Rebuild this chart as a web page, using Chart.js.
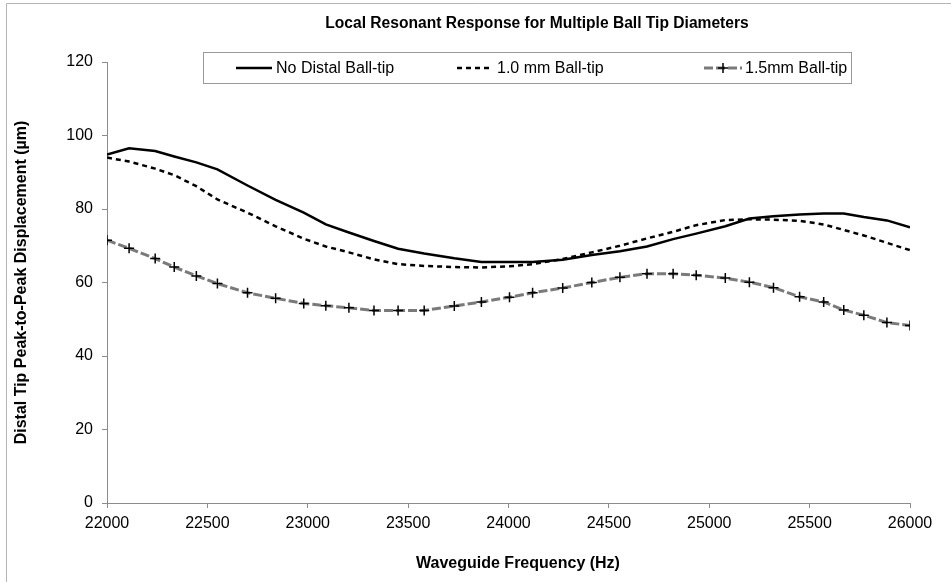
<!DOCTYPE html>
<html>
<head>
<meta charset="utf-8">
<script src="https://cdn.jsdelivr.net/npm/chart.js@4.4.1/dist/chart.umd.min.js"></script>
<style>
  html, body { margin: 0; padding: 0; background: #fff; overflow: hidden; }
  #wrap { width: 951px; height: 582px; position: relative; }
</style>
</head>
<body>
<div id="wrap"><canvas id="c" width="951" height="582"></canvas></div>
<script>
// Sweep frequencies (Hz)
const frequencies = [22000, 22110, 22240, 22335, 22445, 22550, 22700, 22840, 22980, 23090,
  23205, 23330, 23450, 23580, 23730, 23865, 24005, 24120, 24270, 24415,
  24555, 24690, 24820, 24935, 25080, 25200, 25320, 25450, 25570, 25670,
  25770, 25885, 26000];

// Peak-to-peak displacement at the distal tip (µm)
const noBallTip = [94.8, 96.5, 95.8, 94.3, 92.7, 90.8, 86.4, 82.5, 79.0, 75.8,
  73.6, 71.3, 69.2, 67.9, 66.6, 65.6, 65.6, 65.6, 66.2, 67.5,
  68.5, 69.8, 71.8, 73.3, 75.3, 77.4, 78.0, 78.5, 78.8, 78.8,
  77.8, 76.9, 75.0];
const ballTip10 = [94.0, 92.9, 91.0, 89.2, 86.2, 82.6, 79.0, 75.3, 71.9, 69.8,
  68.2, 66.3, 65.0, 64.5, 64.2, 64.1, 64.4, 65.0, 66.4, 68.2,
  70.0, 72.0, 73.8, 75.6, 77.0, 77.2, 77.1, 76.8, 75.8, 74.3,
  72.8, 70.8, 68.8];
const ballTip15 = [71.5, 69.3, 66.5, 64.2, 61.8, 59.7, 57.2, 55.7, 54.3, 53.7,
  53.1, 52.4, 52.4, 52.4, 53.6, 54.7, 56.0, 57.2, 58.5, 60.0,
  61.4, 62.4, 62.4, 62.0, 61.2, 60.1, 58.6, 56.1, 54.7, 52.5,
  51.1, 49.1, 48.3];

const seriesNames = ['No Distal Ball-tip', '1.0 mm Ball-tip', '1.5mm Ball-tip'];
const xTicks = [22000, 22500, 23000, 23500, 24000, 24500, 25000, 25500, 26000];
const yTicks = [0, 20, 40, 60, 80, 100, 120];

const chartTitle = 'Local Resonant Response for Multiple Ball Tip Diameters';
const xTitle = 'Waveguide Frequency (Hz)';
const yTitle = 'Distal Tip Peak-to-Peak Displacement (\u00b5m)';

const FONT = '"Liberation Sans", Arial, Helvetica, sans-serif';
const AXIS_GRAY = '#8c8c8c';

const toPoints = vals => frequencies.map((f, i) => ({ x: f, y: vals[i] }));

// Frame, titles and the boxed legend
const decorations = {
  id: 'decorations',
  afterDraw(chart) {
    const ctx = chart.ctx;
    ctx.save();

    // outer chart frame
    ctx.strokeStyle = '#b4b4b4';
    ctx.lineWidth = 1;
    ctx.beginPath();
    ctx.moveTo(6.5, chart.height);
    ctx.lineTo(6.5, 3.5);
    ctx.lineTo(chart.width, 3.5);
    ctx.stroke();

    // chart title
    ctx.fillStyle = '#000';
    ctx.font = 'bold 15.6px ' + FONT;
    ctx.textAlign = 'center';
    ctx.textBaseline = 'middle';
    ctx.fillText(chartTitle, 537, 24);

    // x axis title
    ctx.font = 'bold 16px ' + FONT;
    ctx.fillText(xTitle, 518, 564);

    // legend box
    const box = { l: 203.5, t: 52.5, r: 851.5, b: 83.5 };
    ctx.fillStyle = '#fff';
    ctx.fillRect(box.l, box.t, box.r - box.l, box.b - box.t);
    ctx.strokeStyle = '#9a9a9a';
    ctx.strokeRect(box.l, box.t, box.r - box.l, box.b - box.t);

    const cy = 68;
    const items = [
      { x0: 236, x1: 272, tx: 276 },
      { x0: 457, x1: 492, tx: 497 },
      { x0: 704, x1: 742, tx: 745 }
    ];
    chart.data.datasets.forEach((ds, i) => {
      const it = items[i];
      ctx.save();
      ctx.strokeStyle = ds.borderColor;
      ctx.lineWidth = ds.borderWidth;
      ctx.setLineDash(ds.borderDash || []);
      ctx.beginPath();
      ctx.moveTo(it.x0, cy);
      ctx.lineTo(it.x1, cy);
      ctx.stroke();
      ctx.restore();
      if (ds.pointStyle === 'cross') {
        const mx = (it.x0 + it.x1) / 2;
        const r = ds.pointRadius;
        ctx.save();
        ctx.strokeStyle = ds.pointBorderColor;
        ctx.lineWidth = ds.pointBorderWidth;
        ctx.beginPath();
        ctx.moveTo(mx - r, cy); ctx.lineTo(mx + r, cy);
        ctx.moveTo(mx, cy - r); ctx.lineTo(mx, cy + r);
        ctx.stroke();
        ctx.restore();
      }
      ctx.fillStyle = '#000';
      ctx.font = '16px ' + FONT;
      ctx.textAlign = 'left';
      ctx.textBaseline = 'middle';
      ctx.fillText(ds.label, it.tx, cy + 1);
    });
    ctx.restore();
  }
};

new Chart(document.getElementById('c'), {
  type: 'line',
  data: {
    datasets: [
      {
        label: seriesNames[0],
        data: toPoints(noBallTip),
        borderColor: '#000',
        borderWidth: 2.5,
        pointRadius: 0,
        tension: 0
      },
      {
        label: seriesNames[1],
        data: toPoints(ballTip10),
        borderColor: '#000',
        borderWidth: 2.5,
        borderDash: [5, 4],
        pointRadius: 0,
        tension: 0
      },
      {
        label: seriesNames[2],
        data: toPoints(ballTip15),
        borderColor: '#7a7a7a',
        borderWidth: 3,
        borderDash: [9, 3],
        pointStyle: 'cross',
        pointRadius: 5,
        pointBorderColor: '#000',
        pointBorderWidth: 1.5,
        pointBackgroundColor: '#000',
        tension: 0
      }
    ]
  },
  options: {
    responsive: false,
    animation: false,
    layout: { padding: { left: 0, top: 62, right: 41, bottom: 0 } },
    plugins: {
      legend: { display: false },
      title: { display: false },
      tooltip: { enabled: false }
    },
    scales: {
      x: {
        type: 'linear',
        min: xTicks[0],
        max: xTicks[xTicks.length - 1],
        afterBuildTicks: s => { s.ticks = xTicks.map(v => ({ value: v })); },
        afterFit: s => { s.height = 79; },
        ticks: {
          callback: v => String(v),
          color: '#000',
          font: { family: FONT, size: 16 },
          padding: 6,
          maxRotation: 0
        },
        grid: {
          drawOnChartArea: false,
          drawTicks: true,
          tickLength: 5,
          color: AXIS_GRAY
        },
        border: { display: true, color: AXIS_GRAY, width: 1 },
        title: { display: false }
      },
      y: {
        type: 'linear',
        min: yTicks[0],
        max: yTicks[yTicks.length - 1],
        afterBuildTicks: s => { s.ticks = yTicks.map(v => ({ value: v })); },
        afterFit: s => { s.width = 107; },
        ticks: {
          color: '#000',
          font: { family: FONT, size: 16 },
          padding: 9
        },
        grid: {
          drawOnChartArea: false,
          drawTicks: true,
          tickLength: 5,
          color: AXIS_GRAY
        },
        border: { display: true, color: AXIS_GRAY, width: 1 },
        title: {
          display: true,
          text: yTitle,
          color: '#000',
          font: { family: FONT, size: 16, weight: 'bold' },
          padding: { top: 12, bottom: 0 }
        }
      }
    }
  },
  plugins: [decorations]
});
</script>
</body>
</html>
